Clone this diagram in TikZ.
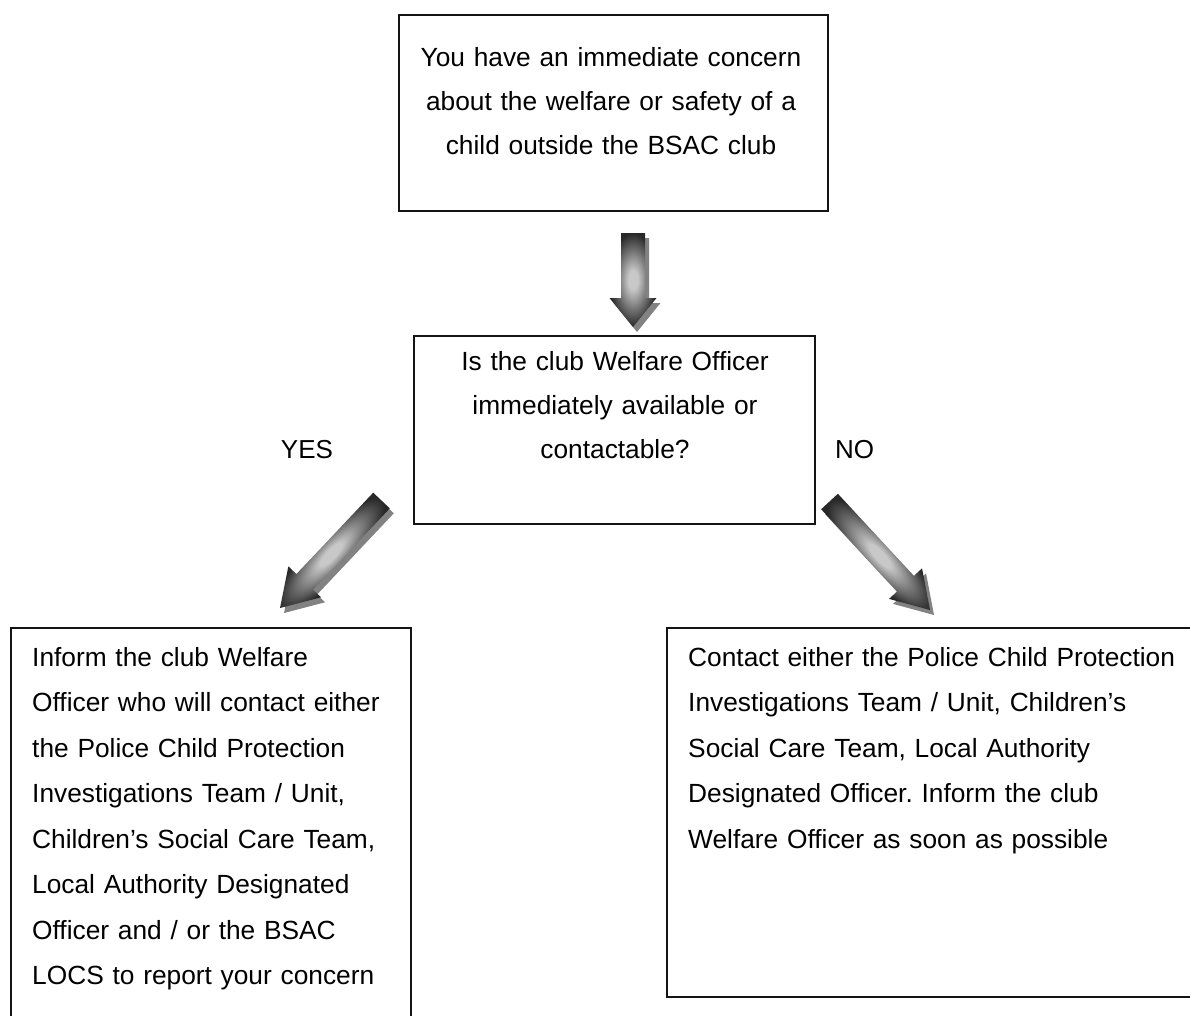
\documentclass[tikz,border=0pt]{standalone}
\usepackage{fontspec}
\setmainfont{Liberation Sans}
\usetikzlibrary{calc}
\frenchspacing
\definecolor{arrlight}{RGB}{200,200,200}
\definecolor{arrdark}{RGB}{40,40,40}
\definecolor{arrshadow}{RGB}{130,130,130}
\definecolor{boxline}{RGB}{20,20,20}
\pgfdeclareradialshading{arrowshade}{\pgfpoint{0bp}{0bp}}{color(0bp)=(arrlight); color(5bp)=(arrlight); color(25bp)=(arrdark); color(50bp)=(arrdark)}
% #1 from, #2 to, #3 shaft half width, #4 head half width, #5 head length
\newcommand\shadearrow[5]{%
  \pgfmathanglebetweenpoints{\pgfpointanchor{#1}{center}}{\pgfpointanchor{#2}{center}}%
  \edef\arrang{\pgfmathresult}%
  \pgfpointdiff{\pgfpointanchor{#1}{center}}{\pgfpointanchor{#2}{center}}%
  \pgfgetlastxy{\arrdx}{\arrdy}%
  \pgfmathveclen{\arrdx}{\arrdy}%
  \edef\arrlen{\pgfmathresult}%
  \pgfmathsetmacro\arrneck{\arrlen-#5}%
  \begin{scope}[transform canvas={shift={($(#1)+(4,5)$)},rotate=\arrang}]
    \fill[arrshadow] (0,-#3) -- (\arrneck,-#3) -- (\arrneck,-#4) -- (\arrlen,0)
      -- (\arrneck,#4) -- (\arrneck,#3) -- (0,#3) -- cycle;
  \end{scope}
  \begin{scope}[transform canvas={shift={(#1)},rotate=\arrang}]
    \shade[shading=arrowshade] (0,-#3) -- (\arrneck,-#3) -- (\arrneck,-#4) -- (\arrlen,0)
      -- (\arrneck,#4) -- (\arrneck,#3) -- (0,#3) -- cycle;
  \end{scope}}
\tikzset{
  box/.style={draw=boxline, line width=1.5pt, rectangle, inner sep=0pt},
  ctext/.style={inner sep=0pt, anchor=base, align=center, font=\fontsize{26.3}{44}\selectfont},
  ltext/.style={inner sep=0pt, anchor=base west, align=left, font=\fontsize{26.3}{45.5}\selectfont},
  lbl/.style={inner sep=0pt, font=\fontsize{26}{30}\selectfont}
}
\begin{document}
\begin{tikzpicture}[x=1pt,y=-1pt]
\useasboundingbox (0,0) rectangle (1190,1015);
\fill[white] (0,0) rectangle (1190,1015);
\begin{scope}
\clip (0,0) rectangle (1190,1015);
% boxes
\node[box, minimum width=429pt, minimum height=196pt] (top) at (613.5,113) {};
\node[box, minimum width=401pt, minimum height=188pt] (mid) at (614.5,430) {};
\node[box, minimum width=400pt, minimum height=412pt] (left) at (211,834) {};
\node[box, minimum width=543pt, minimum height=369pt] (right) at (938.5,812.5) {};
% texts
\node[ctext, text width=420pt] (toptext) at (611,66)
  {You have an immediate concern\\about the welfare or safety of a\\child outside the BSAC club};
\node[ctext, text width=390pt] (midtext) at (615,370)
  {Is the club Welfare Officer\\immediately available or\\contactable?};
\node[ltext, text width=375pt] (lefttext) at (32,666)
  {Inform the club Welfare\\Officer who will contact either\\the Police Child Protection\\Investigations Team / Unit,\\Children’s Social Care Team,\\Local Authority Designated\\Officer and / or the BSAC\\LOCS to report your concern};
\node[ltext, text width=495pt] (righttext) at (688,666)
  {Contact either the Police Child Protection\\Investigations Team / Unit, Children’s\\Social Care Team, Local Authority\\Designated Officer. Inform the club\\Welfare Officer as soon as possible};
\node[lbl, anchor=base] (yes) at (307,458) {YES};
\node[lbl, anchor=base west] (no) at (835,458) {NO};
% arrow end points
\coordinate (downS) at (633,233);
\coordinate (downE) at (633,327);
\coordinate (yesS) at (381.5,500.5);
\coordinate (yesE) at (280,608);
\coordinate (noS) at (829.5,501.5);
\coordinate (noE) at (930,610);
\shadearrow{downS}{downE}{12}{23.5}{29}
\shadearrow{yesS}{yesE}{11.4}{22.5}{36}
\shadearrow{noS}{noE}{11.4}{22.5}{36}
\end{scope}
\end{tikzpicture}
\end{document}
